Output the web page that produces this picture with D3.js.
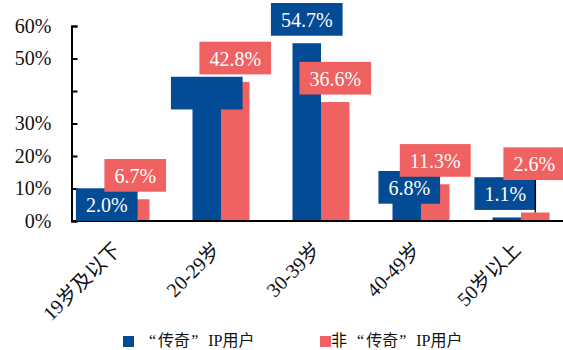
<!DOCTYPE html>
<html>
<head>
<meta charset="utf-8">
<script src="https://cdn.jsdelivr.net/npm/d3@7"></script>
<style>
  html, body { margin: 0; padding: 0; background: #ffffff; }
  svg { display: block; }
  text { font-family: "Liberation Serif", "Times New Roman", "Noto Sans CJK SC", serif; }
</style>
</head>
<body>
<svg id="chart" width="563" height="350"></svg>
<script>
// Age groups and the share of each user group (percent)
const ageGroups = ["19岁及以下", "20-29岁", "30-39岁", "40-49岁", "50岁以上"];
const seriesKeys = ["chuanqi", "other"];
const chuanqiShare = [2.0, 35.4, 54.7, 6.8, 1.1];
const otherShare = [6.7, 42.8, 36.6, 11.3, 2.6];
const yTickValues = [0, 10, 20, 30, 40, 50, 60];
const yTickLabels = ["0%", "10%", "20%", "30%", "", "50%", "60%"];

// Value labels whose text is not shown (box only)
const blankLabels = { chuanqi: [false, true, false, false, false], other: [false, false, false, false, false] };

// Hand-placed nudges for value labels [dx, dy] in px, relative to the "outside end" spot
const labelNudge = {
  chuanqi: [[0, 14], [0, 11], [0, 0], [2.5, 12.3], [-1.5, 0]],
  other:   [[0, 0], [0, 0], [0, 0], [0, 0], [-1, -25]]
};
// Labels joined to their bar with a leader line
const leaderLines = { other: [4] };

const colors = { chuanqi: "#034b94", other: "#f06161" };

const svg = d3.select("#chart");
const plot = { left: 71, right: 571, top: 26, bottom: 221 };

const x0 = d3.scaleBand().domain(ageGroups).range([plot.left, plot.right]).padding(0);
const x1 = d3.scaleBand().domain(seriesKeys).range([21.5, 78.5]).padding(0);
const y = d3.scaleLinear().domain([0, 60]).range([plot.bottom, plot.top]);

const data = ageGroups.map((g, i) => ({ group: g, i, chuanqi: chuanqiShare[i], other: otherShare[i] }));

// Bars
const groups = svg.append("g").selectAll("g")
  .data(data).join("g")
  .attr("transform", d => `translate(${x0(d.group)},0)`);

groups.selectAll("rect")
  .data(d => seriesKeys.map(k => ({ key: k, value: d[k], i: d.i })))
  .join("rect")
  .attr("x", d => x1(d.key))
  .attr("y", d => y(d.value))
  .attr("width", x1.bandwidth())
  .attr("height", d => y(0) - y(d.value))
  .attr("fill", d => colors[d.key]);

// Y axis with inward ticks
const yAxis = d3.axisLeft(y)
  .tickValues(yTickValues)
  .tickFormat((d, i) => yTickLabels[i])
  .tickSizeInner(-6)
  .tickSizeOuter(-6)
  .tickPadding(20);

const yg = svg.append("g")
  .attr("transform", `translate(${plot.left + 0.5},0)`)
  .call(yAxis);
yg.select(".domain").attr("stroke", "#000").attr("stroke-width", 2);
yg.selectAll(".tick line").attr("stroke", "#000").attr("stroke-width", 2);
yg.selectAll(".tick text")
  .attr("font-size", 20)
  .attr("fill", "#111");

// X axis line and rotated category labels
const xAxis = d3.axisBottom(x0).tickSize(0).tickPadding(0);
const xg = svg.append("g")
  .attr("transform", `translate(0,${plot.bottom})`)
  .call(xAxis);
xg.select(".domain").attr("stroke", "#000").attr("stroke-width", 2)
  .attr("d", `M${plot.left},0H${plot.right}`);
xg.selectAll(".tick text")
  .attr("font-size", 20)
  .attr("fill", "#111")
  .attr("text-anchor", "end")
  .attr("y", 0)
  .attr("dy", 0)
  .attr("transform", "translate(1,30) rotate(-45)");

// Value labels: blue series first, the pink series on top
const fmt = v => d3.format(".1f")(v) + "%";
const boxH = 32.7, padX = 10, gap = 7.5;
const labelLayer = svg.append("g");

seriesKeys.forEach(key => {
  const values = key === "chuanqi" ? chuanqiShare : otherShare;
  values.forEach((v, i) => {
    const cx = x0(ageGroups[i]) + x1(key) + x1.bandwidth() / 2;
    const [dx, dy] = labelNudge[key][i];
    const g = labelLayer.append("g");
    const t = g.append("text")
      .attr("font-size", 20)
      .attr("fill", "#ffffff")
      .attr("text-anchor", "middle")
      .text(fmt(v));
    const w = t.node().getComputedTextLength() + 2 * padX;
    const bottom = y(v) - gap + dy;
    const top = bottom - boxH;
    const mid = cx + dx;
    g.insert("rect", "text")
      .attr("x", mid - w / 2)
      .attr("y", top)
      .attr("width", w)
      .attr("height", boxH)
      .attr("fill", colors[key]);
    t.attr("x", mid).attr("y", top + boxH / 2 + 7.5);
    if (blankLabels[key][i]) t.remove();
    if (leaderLines[key] && leaderLines[key].includes(i)) {
      svg.append("line")
        .attr("x1", cx).attr("x2", cx)
        .attr("y1", bottom).attr("y2", y(v))
        .attr("stroke", "#000").attr("stroke-width", 1.3);
    }
  });
});

// Legend: full-width spacing around the curly quotes
const legendItems = [
  { key: "chuanqi", x: 123, textX: 149, prefix: "", quoteDx: 0 },
  { key: "other", x: 320, textX: 331, prefix: "非", quoteDx: 10 }
];
const legend = svg.append("g");
legendItems.forEach(item => {
  legend.append("rect")
    .attr("x", item.x).attr("y", 336)
    .attr("width", 11).attr("height", 11)
    .attr("fill", colors[item.key]);
  const t = legend.append("text")
    .attr("x", item.textX)
    .attr("y", 346)
    .attr("font-size", 16)
    .attr("fill", "#111");
  if (item.prefix) t.append("tspan").text(item.prefix);
  t.append("tspan").attr("dx", item.quoteDx).text("“");
  t.append("tspan").attr("dx", 2).text("传奇");
  t.append("tspan").attr("dx", 1).text("”");
  t.append("tspan").attr("dx", 6).text(" IP用户");
});
</script>
</body>
</html>
